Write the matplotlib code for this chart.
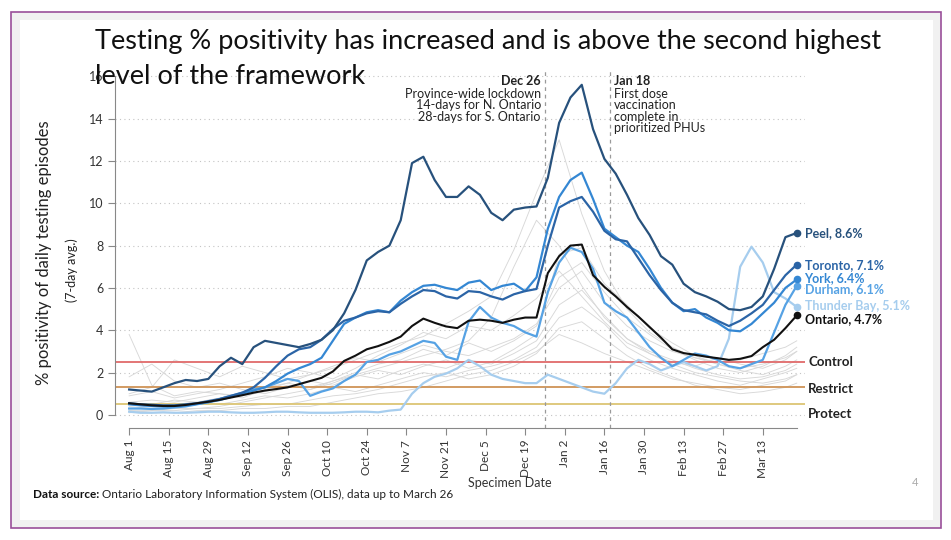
import numpy as np
import pandas as pd
import matplotlib.pyplot as plt
import matplotlib.dates as mdates
from matplotlib.patches import Rectangle

plt.rcParams['font.family'] = ['Lato', 'DejaVu Sans']

# --- data ---
dates = pd.date_range('2020-08-01', '2021-03-25', freq='4D')

peel = [1.2, 1.15, 1.1, 1.3, 1.5, 1.65, 1.6, 1.7, 2.3, 2.7,
        2.4, 3.2, 3.5, 3.4, 3.3, 3.2, 3.35, 3.55, 4.0, 4.8,
        5.9, 7.3, 7.7, 8.0, 9.2, 11.9, 12.2, 11.1, 10.3, 10.3,
        10.8, 10.4, 9.55, 9.2, 9.7, 9.8, 9.85, 11.2, 13.8, 15.0,
        15.6, 13.5, 12.1, 11.4, 10.4, 9.3, 8.5, 7.5, 7.1, 6.2,
        5.8, 5.6, 5.35, 5.0, 4.95, 5.1, 5.6, 6.9, 8.4, 8.6]
toronto = [0.55, 0.5, 0.48, 0.45, 0.45, 0.5, 0.55, 0.65, 0.75, 0.9,
           1.05, 1.3, 1.75, 2.3, 2.8, 3.1, 3.2, 3.55, 4.05, 4.45,
           4.6, 4.8, 4.9, 4.85, 5.25, 5.6, 5.9, 5.85, 5.6, 5.5,
           5.85, 5.8, 5.6, 5.45, 5.7, 5.85, 5.95, 8.0, 9.8, 10.1,
           10.3, 9.6, 8.7, 8.3, 8.2, 7.4, 6.6, 5.9, 5.3, 4.95,
           4.85, 4.75, 4.45, 4.2, 4.45, 4.8, 5.2, 5.9, 6.6, 7.1]
york = [0.5, 0.45, 0.42, 0.4, 0.42, 0.45, 0.52, 0.6, 0.7, 0.85,
        1.0, 1.15, 1.3, 1.6, 1.95, 2.2, 2.4, 2.7, 3.5, 4.3,
        4.6, 4.85, 4.95, 4.85, 5.4, 5.8, 6.1, 6.15, 6.0, 5.9,
        6.25, 6.35, 5.9, 6.1, 6.2, 5.85, 6.5, 8.8, 10.3, 11.1,
        11.45, 10.2, 8.8, 8.4, 8.0, 7.7, 6.9, 6.0, 5.3, 4.9,
        5.0, 4.6, 4.35, 4.0, 3.95, 4.3, 4.8, 5.3, 6.0, 6.4]
durham = [0.3, 0.3, 0.28, 0.3, 0.35, 0.4, 0.5, 0.6, 0.75, 0.9,
          1.05, 1.2, 1.3, 1.5, 1.7, 1.6, 0.9, 1.1, 1.25, 1.6,
          1.9, 2.5, 2.6, 2.85, 3.0, 3.25, 3.5, 3.4, 2.75, 2.6,
          4.4, 5.1, 4.6, 4.35, 4.2, 3.9, 3.7, 5.8, 7.2, 7.9,
          7.7, 6.9, 5.3, 4.9, 4.6, 3.9, 3.2, 2.7, 2.3, 2.6,
          2.9, 2.8, 2.6, 2.3, 2.2, 2.4, 2.6, 3.9, 5.2, 6.1]
thunder_bay = [0.15, 0.1, 0.1, 0.12, 0.1, 0.1, 0.12, 0.15, 0.15, 0.12,
               0.1, 0.1, 0.12, 0.15, 0.15, 0.12, 0.1, 0.1, 0.1, 0.12,
               0.15, 0.15, 0.12, 0.2, 0.25, 1.0, 1.5, 1.8, 1.95, 2.2,
               2.6, 2.3, 1.9, 1.7, 1.6, 1.5, 1.5, 1.9, 1.7, 1.5,
               1.3, 1.1, 1.0, 1.5, 2.2, 2.6, 2.4, 2.1, 2.3, 2.5,
               2.3, 2.1, 2.3, 3.6, 7.0, 7.95, 7.2, 5.8, 5.5, 5.1]
ontario = [0.55, 0.5, 0.45, 0.42, 0.42, 0.47, 0.55, 0.62, 0.71, 0.82,
           0.93, 1.05, 1.15, 1.22, 1.3, 1.45, 1.6, 1.75, 2.05, 2.55,
           2.8, 3.1, 3.25, 3.45, 3.7, 4.2, 4.55, 4.35, 4.18, 4.1,
           4.45, 4.5, 4.45, 4.35, 4.5, 4.6, 4.6, 6.7, 7.5, 8.0,
           8.05, 6.6, 6.05, 5.6, 5.1, 4.65, 4.15, 3.65, 3.1, 2.92,
           2.84, 2.75, 2.68, 2.6, 2.65, 2.78, 3.2, 3.55, 4.1, 4.7]

# other public health units (grey background lines)
grey_dates = pd.date_range('2020-08-01', periods=30, freq='8D').append(
    pd.DatetimeIndex(['2021-03-25']))
other_phus = [
    [3.8, 1.4, 0.9, 1.1, 1.0, 0.8, 1.2, 1.5, 1.3, 1.6, 2.0, 2.4, 2.6, 3.1, 2.8, 3.4,
     3.0, 3.5, 4.2, 6.5, 7.2, 5.8, 4.6, 3.8, 3.1, 2.6, 2.2, 2.0, 2.3, 2.8, 3.2],
    [0.3, 0.4, 0.5, 0.6, 0.8, 1.0, 1.3, 1.5, 1.9, 2.2, 2.6, 3.0, 3.4, 3.7, 4.3, 4.9,
     5.6, 7.8, 10.5, 13.0, 9.5, 6.8, 5.0, 3.9, 3.2, 2.7, 2.4, 2.2, 2.4, 2.7, 3.0],
    [0.2, 0.2, 0.3, 0.3, 0.4, 0.6, 0.8, 1.0, 1.2, 1.5, 1.9, 2.2, 2.5, 2.8, 3.1, 3.5,
     4.6, 7.0, 9.2, 8.0, 6.1, 4.6, 3.6, 3.0, 2.6, 2.2, 1.9, 1.7, 1.8, 2.1, 2.4],
    [1.0, 1.3, 2.6, 2.2, 1.8, 2.3, 2.0, 1.7, 1.9, 2.3, 2.7, 2.5, 2.9, 3.3, 3.0, 2.8,
     3.2, 3.6, 4.3, 6.0, 6.8, 5.3, 4.2, 3.5, 3.0, 2.7, 2.5, 2.6, 2.9, 3.2, 3.5],
    [0.6, 0.7, 0.6, 0.8, 1.0, 0.9, 1.1, 1.4, 1.2, 1.6, 1.9, 1.7, 2.1, 2.4, 2.2, 2.6,
     2.4, 2.9, 3.5, 5.2, 5.9, 4.7, 3.6, 2.9, 2.4, 2.0, 1.8, 1.6, 1.5, 1.7, 1.9],
    [0.1, 0.2, 0.2, 0.3, 0.3, 0.4, 0.5, 0.5, 0.7, 0.9, 1.0, 1.2, 1.5, 1.8, 2.0, 1.7,
     1.9, 2.3, 2.9, 4.1, 4.4, 3.6, 2.8, 2.2, 1.8, 1.4, 1.2, 1.0, 1.1, 1.3, 1.5],
    [1.8, 2.4, 1.6, 1.3, 1.5, 1.2, 1.0, 1.3, 1.6, 1.4, 1.8, 2.1, 1.9, 2.3, 2.6, 2.2,
     2.5, 3.1, 3.8, 7.6, 7.9, 6.2, 5.2, 4.1, 3.4, 2.8, 2.4, 2.1, 1.9, 2.3, 2.6],
    [0.4, 0.5, 0.7, 0.6, 0.5, 0.7, 0.9, 0.8, 1.0, 1.3, 1.1, 1.4, 1.7, 2.0, 1.8, 2.1,
     2.3, 2.6, 3.2, 4.6, 5.1, 4.3, 3.2, 2.6, 2.2, 1.9, 1.6, 1.4, 1.7, 2.0, 2.2],
    [0.2, 0.1, 0.1, 0.2, 0.2, 0.3, 0.3, 0.4, 0.4, 0.6, 0.8, 1.0, 1.1, 1.3, 1.6, 1.9,
     2.1, 2.5, 3.0, 3.8, 3.4, 2.9, 2.5, 2.1, 1.7, 1.5, 1.3, 1.2, 1.4, 1.6, 1.9],
    [0.9, 1.1, 0.8, 1.0, 1.2, 1.5, 1.8, 2.2, 2.0, 1.7, 2.2, 2.8, 3.3, 3.9, 3.6, 4.2,
     4.0, 4.7, 5.5, 6.8, 5.6, 4.4, 3.4, 2.9, 2.5, 2.3, 2.7, 2.4, 2.2, 2.6, 3.0],
]

series_names = ['Thunder Bay', 'Durham', 'York', 'Toronto', 'Peel', 'Ontario']
series_values = [thunder_bay, durham, york, toronto, peel, ontario]
series_colors = ['#a6cdee', '#56a2e4', '#3487d3', '#2b64a6', '#27517c', '#111111']
label_y = [5.15, 5.95, 6.45, 7.1, 8.6, 4.55]

thresholds = [2.5, 1.3, 0.5]
threshold_names = ['Control', 'Restrict', 'Protect']
threshold_colors = ['#e06a6a', '#cf9356', '#dcc574']
threshold_label_y = [2.5, 1.2, 0.05]

tick_dates = pd.date_range('2020-08-01', '2021-03-13', freq='14D')
events = [pd.Timestamp('2020-12-26'), pd.Timestamp('2021-01-18')]

# --- figure / slide frame ---
W, H = 951, 540
fig = plt.figure(figsize=(W / 100, H / 100), dpi=100)
fig.patches.append(Rectangle((11 / W, 1 - 528 / H), 930 / W, 516 / H,
                             transform=fig.transFigure, fc='#f1f1f1',
                             ec='#9a4f9a', lw=1.2, zorder=-2))
fig.patches.append(Rectangle((20 / W, 1 - 520 / H), 913 / W, 500 / H,
                             transform=fig.transFigure, fc='white',
                             ec='none', zorder=-1))

ax = fig.add_axes([115 / W, 1 - 428 / H, 690 / W, 358 / H])
ax.patch.set_alpha(0)

for vals in other_phus:
    ax.plot(grey_dates, vals, color='#d8d8d8', lw=0.65, zorder=1)

for y, c in zip(thresholds, threshold_colors):
    ax.axhline(y, color=c, lw=1.3, zorder=2)

for name, vals, c in zip(series_names, series_values, series_colors):
    lw = 1.5 if name == 'Ontario' else 1.6
    ax.plot(dates, vals, color=c, lw=lw, zorder=4 if name == 'Ontario' else 3)
    ax.plot(dates[-1], vals[-1], 'o', color=c, ms=4.5, zorder=5)

for ev in events:
    ax.axvline(ev, color='#9a9a9a', lw=0.9, ls=(0, (3, 3)), zorder=2)

# axes styling
ax.set_xlim(pd.Timestamp('2020-07-27'), pd.Timestamp('2021-03-27 22:00'))
ax.set_ylim(-0.62, 16.3)
ax.set_yticks(range(0, 17, 2))
ax.set_xticks(tick_dates)
ax.set_xticklabels([f'{d:%b} {d.day}' for d in tick_dates], rotation=90,
                   fontsize=8.5, color='#333333')
ax.tick_params(axis='y', labelsize=9, colors='#333333')
ax.tick_params(axis='both', direction='out', length=5, color='#888888', width=0.8)
for s in ['top', 'right']:
    ax.spines[s].set_visible(False)
for s in ['left', 'bottom']:
    ax.spines[s].set_color('#888888')
    ax.spines[s].set_linewidth(0.8)
ax.spines['left'].set_bounds(0, 16)
ax.spines['bottom'].set_bounds(mdates.date2num(dates[0]), mdates.date2num(dates[-1]))
ax.yaxis.grid(True, ls=(0, (1, 3)), color='#c4c4c4', lw=0.8)
ax.set_axisbelow(True)

# end labels
lab_x = pd.Timestamp('2021-03-27 18:00')
for name, vals, c, ly in zip(series_names, series_values, series_colors, label_y):
    ax.text(lab_x, ly, f'{name}, {vals[-1]:.1f}%', color=c, fontsize=9,
            fontweight='bold', va='center', ha='left', clip_on=False)

thr_x = pd.Timestamp('2021-03-29')
for name, ly in zip(threshold_names, threshold_label_y):
    ax.text(thr_x, ly, name, color='#222222', fontsize=9.5, fontweight='bold',
            va='center', ha='left', clip_on=False)

# event annotations
ax.annotate('Dec 26', xy=(events[0], 15.8), xytext=(-3, 0),
            textcoords='offset points', ha='right', va='center',
            fontsize=9, fontweight='bold', color='#222222')
ax.annotate('Province-wide lockdown\n14-days for N. Ontario\n28-days for S. Ontario',
            xy=(events[0], 15.45), xytext=(-3, 0), textcoords='offset points',
            ha='right', va='top', fontsize=9, color='#222222', linespacing=0.95)
ax.annotate('Jan 18', xy=(events[1], 15.8), xytext=(3, 0),
            textcoords='offset points', ha='left', va='center',
            fontsize=9, fontweight='bold', color='#222222')
ax.annotate('First dose\nvaccination\ncomplete in\nprioritized PHUs',
            xy=(events[1], 15.45), xytext=(3, 0), textcoords='offset points',
            ha='left', va='top', fontsize=9, color='#222222', linespacing=0.95)

# slide texts
fig.text(95 / W, 1 - 29 / H, 'Testing % positivity has increased and is above the second highest',
         ha='left', va='top', fontsize=19.5, color='#111111')
fig.text(95 / W, 1 - 64 / H, 'level of the framework',
         ha='left', va='top', fontsize=19.5, color='#111111')
fig.text(44 / W, 1 - 253 / H, '% positivity of daily testing episodes',
         rotation=90, ha='center', va='center', fontsize=12, color='#222222')
fig.text(72 / W, 1 - 270 / H, '(7-day avg.)', rotation=90, ha='center',
         va='center', fontsize=9, color='#222222')
fig.text(510 / W, 1 - 483 / H, 'Specimen Date', ha='center', va='center',
         fontsize=9, color='#333333')
src = fig.text(33 / W, 1 - 495 / H, 'Data source:', ha='left', va='center',
               fontsize=8.5, fontweight='bold', color='#111111')
ax.annotate(' Ontario Laboratory Information System (OLIS), data up to March 26',
            xy=(1, 0), xycoords=src, va='bottom', ha='left', fontsize=8.5,
            color='#222222', annotation_clip=False)
fig.text(915 / W, 1 - 483 / H, '4', ha='center', va='center', fontsize=8,
         color='#aaaaaa')

plt.savefig('out.png', dpi=100)
